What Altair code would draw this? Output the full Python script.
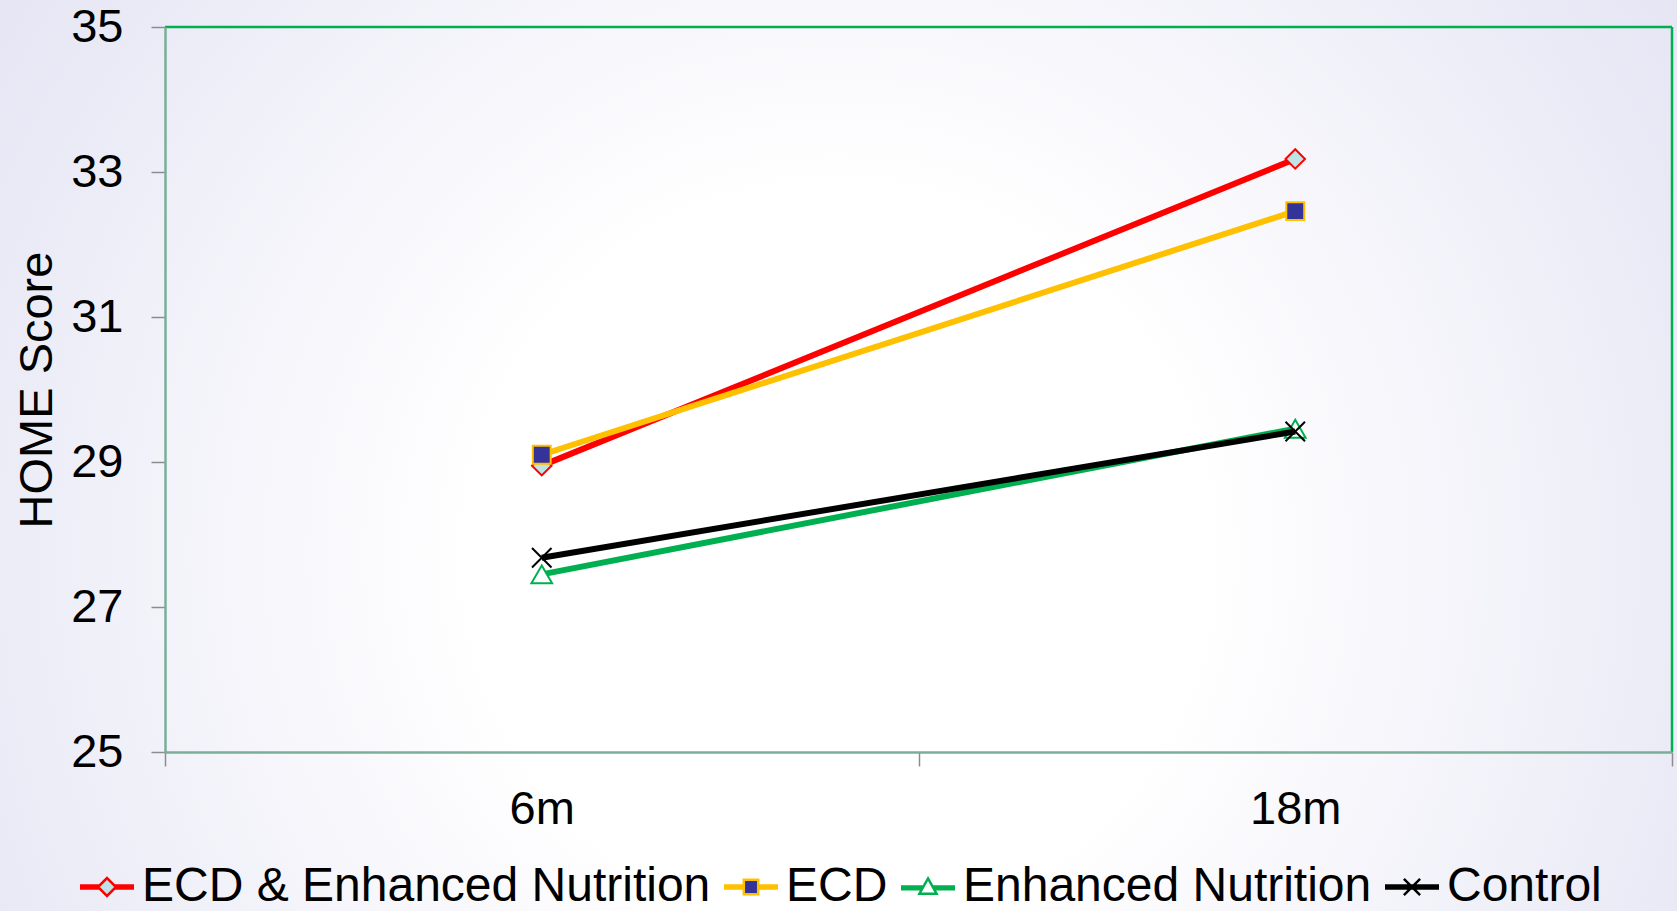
import altair as alt
import pandas as pd

# HOME scores by study arm at the two follow-up visits
groups = ["ECD & Enhanced Nutrition", "ECD", "Enhanced Nutrition", "Control"]
visits = ["6m", "18m"]
score_6m = [28.95, 29.10, 27.45, 27.68]
score_18m = [33.18, 32.46, 29.46, 29.42]
y_ticks = [25, 27, 29, 31, 33, 35]

# styling per arm
line_colors = ["#FF0000", "#FFC000", "#00B050", "#000000"]
marker_fills = ["#BFE4E6", "#333399", "#FFFFFF", "transparent"]
marker_shapes = ["diamond", "square", "triangle-up", "M-1,-1L1,1M-1,1L1,-1"]
marker_sizes = [380, 320, 430, 380]


def stub(x0, x1, y=0.0):
    # a thick line segment built from three close strokes
    return "".join(f"M{x0},{y + d:.2f}H{x1}" for d in (-0.16, 0, 0.16))


legend_shapes = [
    stub(-3, -0.9) + "M-1,0L0,-1L1,0L0,1Z" + stub(0.9, 3),
    stub(-3, -0.8) + "M-0.8,-0.8H0.8V0.8H-0.8Z" + stub(0.8, 3),
    stub(-3, -0.6, 0.1) + "M0,-0.95L0.95,0.75H-0.95Z" + stub(0.6, 3, 0.1),
    stub(-3, 3) + "M-0.9,-0.9L0.9,0.9M-0.9,0.9L0.9,-0.9",
]

FONT = "Liberation Sans"
CANVAS_W, CANVAS_H = 1677, 911
LEFT, TOP = 165, 27
W, H = 1507, 725

rows = []
for i, g in enumerate(groups):
    for v, vals in zip(visits, [score_6m, score_18m]):
        rows.append({"group": g, "visit": v, "score": vals[i]})
df = pd.DataFrame(rows)

x_enc = alt.X(
    "visit:N",
    sort=visits,
    scale=alt.Scale(type="band", domain=visits, paddingInner=0, paddingOuter=0),
    axis=alt.Axis(
        title=None,
        tickBand="extent",
        labelFontSize=47,
        labelFont=FONT,
        labelColor="black",
        labelPadding=20,
        labelAngle=0,
        tickSize=14,
        tickColor="#8C8C8C",
        tickWidth=1.5,
        domainColor="#7AAE98",
        domainWidth=2.5,
        grid=False,
        zindex=1,
    ),
)
y_enc = alt.Y(
    "score:Q",
    scale=alt.Scale(domain=[25, 35], nice=False, zero=False),
    axis=alt.Axis(
        values=y_ticks,
        title="HOME Score",
        titleFont=FONT,
        titleFontSize=47,
        titleFontWeight="normal",
        titleColor="black",
        titleAngle=-90,
        titleAlign="center",
        titleBaseline="middle",
        titleX=37 - LEFT,
        titleY=H / 2,
        labelFontSize=47,
        labelFont=FONT,
        labelColor="black",
        labelPadding=28,
        tickSize=14,
        tickColor="#8C8C8C",
        tickWidth=1.5,
        domainColor="#7AAE98",
        domainWidth=2.5,
        grid=False,
        zindex=1,
    ),
)

# soft radial backdrop spanning the whole canvas
backdrop = alt.Chart(alt.Data(values=[{}])).mark_rect(
    fill={
        "gradient": "radial",
        "x1": 0.5, "y1": 0.56, "r1": 0,
        "x2": 0.5, "y2": 0.56, "r2": 0.62,
        "stops": [
            {"offset": 0, "color": "#FFFFFF"},
            {"offset": 0.35, "color": "#FFFFFF"},
            {"offset": 1, "color": "#E4E4F4"},
        ],
    }
).encode(
    x=alt.value(-LEFT), x2=alt.value(CANVAS_W - LEFT),
    y=alt.value(-TOP), y2=alt.value(CANVAS_H - TOP),
)

# green frame on the top and right of the plot area
frame_top = alt.Chart(alt.Data(values=[{}])).mark_rule(color="#00B050", strokeWidth=2.5).encode(
    x=alt.value(0), x2=alt.value(W), y=alt.value(0)
)
frame_right = alt.Chart(alt.Data(values=[{}])).mark_rule(color="#00B050", strokeWidth=2.5).encode(
    x=alt.value(W), y=alt.value(0), y2=alt.value(H)
)

layers = [backdrop, frame_top, frame_right]
for i, g in enumerate(groups):
    base = alt.Chart(df).transform_filter(alt.datum.group == g)
    line = base.mark_line(strokeWidth=6, color=line_colors[i]).encode(x=x_enc, y=y_enc)
    pts = base.mark_point(
        shape=marker_shapes[i],
        size=marker_sizes[i],
        filled=True,
        fill=marker_fills[i],
        stroke=line_colors[i],
        strokeWidth=2,
        opacity=1,
    ).encode(x=x_enc, y=y_enc)
    layers += [line, pts]

# legend carrier: no visible marks, one legend entry per arm
legend_layer = alt.Chart(df).transform_filter("false").mark_point(filled=True, opacity=1, strokeWidth=2.5).encode(
    stroke=alt.Stroke("group:N", scale=alt.Scale(domain=groups, range=line_colors), legend=alt.Legend(title=None)),
    fill=alt.Fill("group:N", scale=alt.Scale(domain=groups, range=marker_fills), legend=alt.Legend(title=None)),
    shape=alt.Shape("group:N", scale=alt.Scale(domain=groups, range=legend_shapes), legend=alt.Legend(title=None)),
)
layers.append(legend_layer)

chart = (
    alt.layer(*layers)
    .properties(width=W, height=H, background="#E6E6F5", padding=0)
    .configure_view(stroke=None)
    .configure_legend(
        orient="none",
        legendX=-82,
        legendY=836,
        direction="horizontal",
        columns=4,
        labelFont=FONT,
        labelFontSize=48,
        labelColor="black",
        labelLimit=0,
        symbolSize=324,
        symbolStrokeWidth=2.5,
        labelOffset=11,
        columnPadding=8,
        padding=0,
    )
)

chart.save("out.html", embed_options={"renderer": "svg", "actions": False})
